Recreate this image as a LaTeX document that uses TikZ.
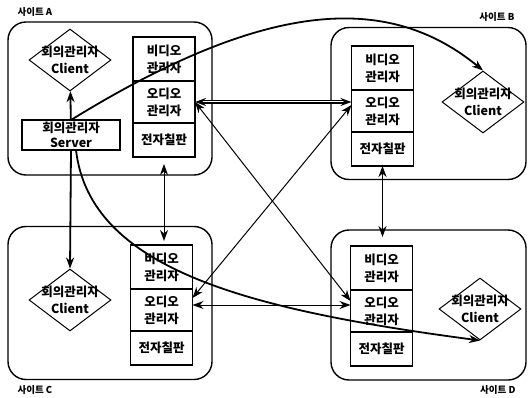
\documentclass[tikz,border=0pt]{standalone}
\usepackage{fontspec}
\newfontfamily\kr{Noto Sans CJK KR}
\usetikzlibrary{arrows.meta,shapes.geometric,positioning}

\begin{document}
\begin{tikzpicture}[x=1pt,y=-1pt,>={Stealth[length=11pt,width=8pt]},font=\kr\bfseries\fontsize{12.5}{17}\selectfont,
  site/.style={draw,line width=1.4pt,rounded corners=18pt,minimum width=204pt,minimum height=153pt},
  cell/.style={draw,line width=1.3pt,outer sep=0pt,minimum width=62pt,minimum height=42pt,inner sep=0pt,align=center},
  client/.style={diamond,draw,line width=1pt,minimum width=82pt,minimum height=62pt,inner sep=0pt},
  lbl/.style={font=\kr\bfseries\fontsize{9.5}{11}\selectfont},
  sig/.style={->,line width=1.8pt},
  aud/.style={<->,double,line width=1pt,double distance=1.6pt}]

\useasboundingbox (0,0) rectangle (529,398);

% sites
\node[site]                                          (siteA) at (110,98.5) {};
\node[site,minimum width=195pt,minimum height=152pt] (siteB) at (428.5,103.5) {};
\node[site]                                          (siteC) at (110,303) {};
\node[site,minimum width=195pt,minimum height=150pt] (siteD) at (428.5,305) {};

\node[lbl,anchor=west] (labA) at (14,12)  {사이트 A};
\node[lbl,anchor=east] (labB) at (518,17) {사이트 B};
\node[lbl,anchor=west] (labC) at (14,390) {사이트 C};
\node[lbl,anchor=east] (labD) at (519,390) {사이트 D};

% site A
\node[cell,minimum height=44pt] (vidA) at (164,59)      {비디오\\관리자};
\node[cell]                     (audA) [below=0pt of vidA] {오디오\\관리자};
\node[cell,minimum height=34pt] (brdA) [below=0pt of audA] {전자칠판};
\node[cell,minimum width=98pt,minimum height=30pt,font=\kr\bfseries\fontsize{12.5}{15}\selectfont]
                                (srvA) at (71,135)      {회의관리자\\Server};
\node[client,label={[align=center]center:회의관리자\\Client}] (cliA) at (70,60) {};

% site B
\node[cell,minimum height=44pt] (vidB) at (382.5,68)    {비디오\\관리자};
\node[cell]                     (audB) [below=0pt of vidB] {오디오\\관리자};
\node[cell,minimum height=34pt] (brdB) [below=0pt of audB] {전자칠판};
\node[client,label={[align=center]center:회의관리자\\Client}] (cliB) at (483,102) {};

% site C
\node[cell,minimum height=44pt] (vidC) at (161.5,267)   {비디오\\관리자};
\node[cell]                     (audC) [below=0pt of vidC] {오디오\\관리자};
\node[cell,minimum height=34pt] (brdC) [below=0pt of audC] {전자칠판};
\node[client,label={[align=center]center:회의관리자\\Client}] (cliC) at (70,300) {};

% site D
\node[cell,minimum height=44pt] (vidD) at (381.5,268)   {비디오\\관리자};
\node[cell]                     (audD) [below=0pt of vidD] {오디오\\관리자};
\node[cell,minimum height=34pt] (brdD) [below=0pt of audD] {전자칠판};
\node[client,label={[align=center]center:회의관리자\\Client}] (cliD) at (480,309) {};

% server to clients
\path[sig] (srvA) edge (cliA)
(srvA.south) edge (cliC.north);
\draw[sig] (srvA.north) .. controls (272,-4) and (391,-5) .. (cliB.north);
\draw[sig] ([xshift=5pt]srvA.south) .. controls (90,270) and (250,310) .. (cliD.south);

% audio links
\path[aud] (audA.east)              edge[line width=1.4pt,double distance=1pt] (audA.east -| audB.west)
(audA.east)                         edge ([yshift=10pt]audD.west)
([yshift=6pt]audB.west)             edge ([yshift=12pt]audC.east)
([yshift=5pt]audC.east)             edge ([yshift=5pt]audC.east -| audD.west);

% board links
\path[aud] (brdA.south) edge[shorten <=7pt,shorten >=4pt] (brdA.south |- vidC.north);
\path[sig,<->] (brdB.south) edge[shorten >=9pt] (brdB.south |- vidD.north);
\end{tikzpicture}
\end{document}
